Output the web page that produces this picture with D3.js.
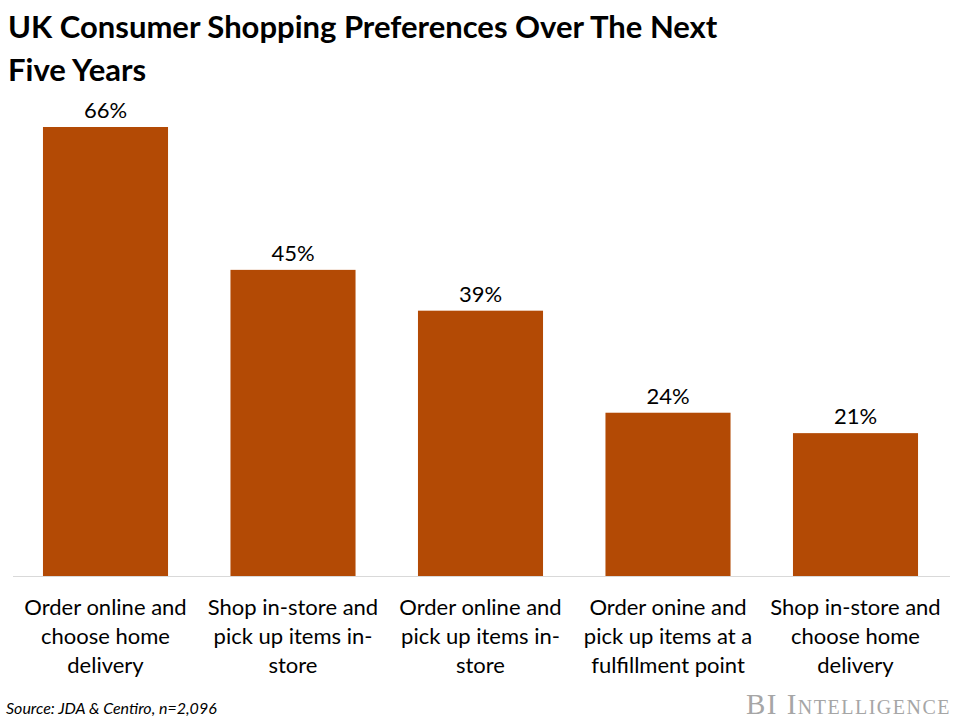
<!DOCTYPE html>
<html>
<head>
<meta charset="utf-8">
<script src="https://cdn.jsdelivr.net/npm/d3@7"></script>
<style>
  body { margin: 0; background: #fff; }
  svg { display: block; }
</style>
</head>
<body>
<div id="chart-area"></div>
<script>
const categories = [
  ["Order online and", "choose home", "delivery"],
  ["Shop in-store and", "pick up items in-", "store"],
  ["Order online and", "pick up items in-", "store"],
  ["Order onine and", "pick up items at a", "fulfillment point"],
  ["Shop in-store and", "choose home", "delivery"]
];
const values = [66, 45, 39, 24, 21];
const valueLabels = ["66%", "45%", "39%", "24%", "21%"];

let w = 960;
let h = 721;
let baseY = 576;
let topY = 127;
let font = "Lato, 'Open Sans', sans-serif";

let svg = d3.select("#chart-area")
    .append("svg")
    .attr("width", w)
    .attr("height", h);

// title
let title = svg.append("text")
    .attr("font-family", font)
    .attr("font-weight", "bold")
    .attr("font-size", 31)
    .attr("fill", "#000");
title.append("tspan").attr("x", 8).attr("y", 38).text("UK Consumer Shopping Preferences Over The Next");
title.append("tspan").attr("x", 8).attr("y", 81).text("Five Years");

let xScale = d3.scaleBand()
    .domain(d3.range(values.length))
    .range([11.75, 949.25])
    .paddingInner(0.333)
    .paddingOuter(0.1665);

let yScale = d3.scaleLinear()
    .domain([0, 66])
    .range([baseY, topY]);

// baseline
svg.append("line")
    .attr("x1", 13)
    .attr("x2", 950)
    .attr("y1", baseY + 0.5)
    .attr("y2", baseY + 0.5)
    .attr("stroke", "#d9d9d9")
    .attr("stroke-width", 1);

svg.selectAll("rect.bar")
    .data(values)
    .enter()
    .append("rect")
    .attr("class", "bar")
    .attr("x", (d, i) => xScale(i))
    .attr("y", (d) => yScale(d))
    .attr("width", xScale.bandwidth())
    .attr("height", (d) => baseY - yScale(d))
    .attr("fill", "#b34a05");

svg.selectAll("text.val")
    .data(values)
    .enter()
    .append("text")
    .attr("class", "val")
    .attr("x", (d, i) => xScale(i) + xScale.bandwidth() / 2)
    .attr("y", (d) => yScale(d) - 9)
    .attr("text-anchor", "middle")
    .attr("font-family", font)
    .attr("font-size", 22)
    .attr("fill", "#000")
    .text((d, i) => valueLabels[i]);

let catG = svg.selectAll("text.cat")
    .data(categories)
    .enter()
    .append("text")
    .attr("class", "cat")
    .attr("text-anchor", "middle")
    .attr("font-family", font)
    .attr("font-size", 22)
    .attr("fill", "#000");

catG.selectAll("tspan")
    .data((d, i) => d.map((line) => ({ line: line, i: i })))
    .enter()
    .append("tspan")
    .attr("x", (d) => xScale(d.i) + xScale.bandwidth() / 2)
    .attr("y", (d, j) => 615 + j * 29)
    .text((d) => d.line);

svg.append("text")
    .attr("x", 6)
    .attr("y", 714)
    .attr("font-family", font)
    .attr("font-style", "italic")
    .attr("font-size", 16)
    .attr("fill", "#000")
    .text("Source: JDA & Centiro, n=2,096");

svg.append("text")
    .attr("x", 951)
    .attr("y", 714)
    .attr("text-anchor", "end")
    .attr("font-family", "'Liberation Serif', 'DejaVu Serif', serif")
    .attr("font-size", 29)
    .attr("font-variant", "small-caps")
    .attr("fill", "#a6a6a6")
    .attr("letter-spacing", 1.5)
    .text("BI Intelligence");
</script>
</body>
</html>
